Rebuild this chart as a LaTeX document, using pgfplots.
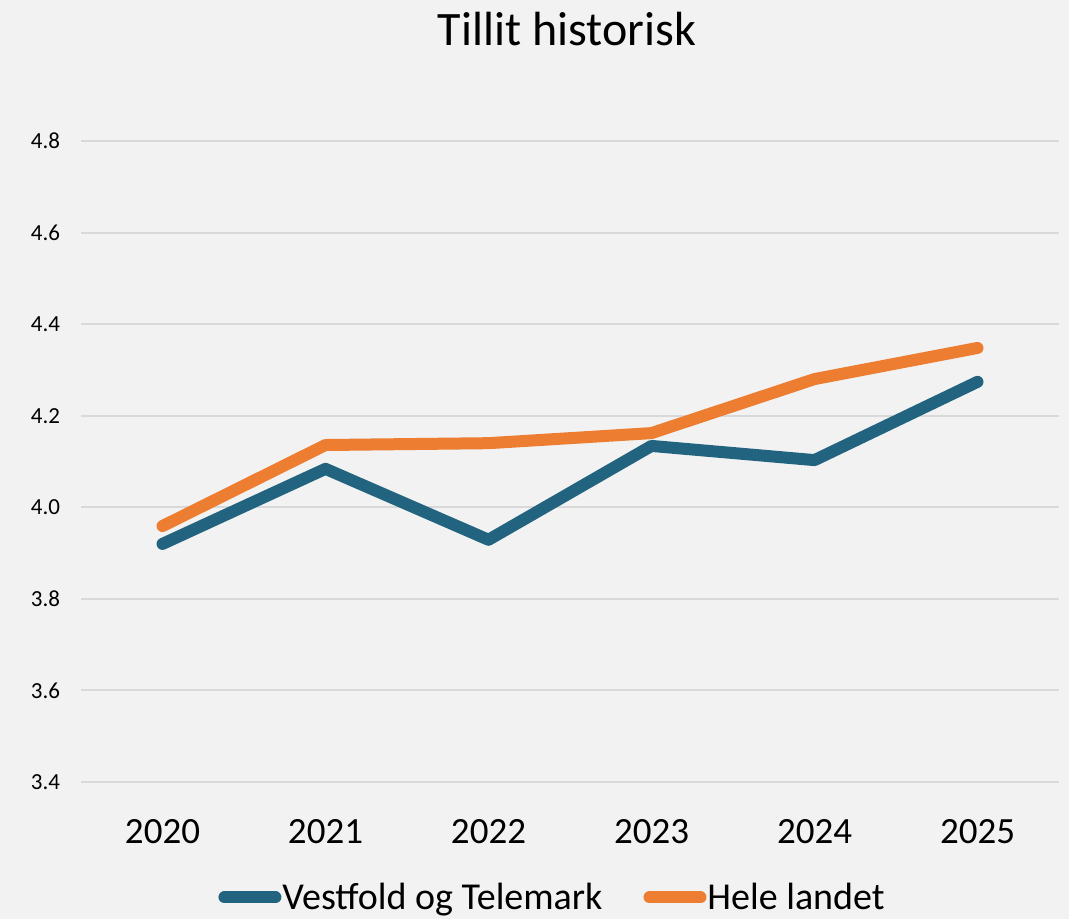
\documentclass[border=0pt]{standalone}
\usepackage{pgfplots}
\pgfplotsset{compat=1.18}
\usepackage{fontspec}
\setmainfont{Carlito}
\definecolor{bg}{HTML}{F2F2F2}
\definecolor{vt}{HTML}{22637F}
\definecolor{hl}{HTML}{ED7D31}
\definecolor{gr}{HTML}{D9D9D9}
\begin{document}
\begin{tikzpicture}
\fill[bg] (-40.5bp,-68.5bp) rectangle (494bp,391bp);
\useasboundingbox (-40.5bp,-68.5bp) rectangle (494bp,391bp);
\begin{axis}[
  at={(0,0)}, anchor=south west,
  scale only axis, width=489bp, height=320.5bp,
  xmin=-0.5, xmax=5.5, ymin=3.4, ymax=4.8,
  xtick={0,1,2,3,4,5},
  xticklabels={2020,2021,2022,2023,2024,2025},
  ytick={3.4,3.6,3.8,4.0,4.2,4.4,4.6,4.8},
  y tick label style={/pgf/number format/fixed, /pgf/number format/fixed zerofill, /pgf/number format/precision=1},
  /pgf/number format/assume math mode=true,
  ymajorgrids, grid style={gr, line width=1bp},
  axis line style={draw=none},
  major tick length=0pt,
  tick label style={black},
  yticklabel style={font=\fontsize{11.5bp}{13bp}\selectfont, xshift=-7bp},
  xticklabel style={font=\fontsize{18.5bp}{22bp}\selectfont, yshift=-15bp},
  legend columns=2,
  legend style={draw=none, fill=none, at={(axis description cs:0.4816,-0.180)}, anchor=center,
    font=\fontsize{19bp}{23bp}\selectfont,
    /tikz/every even column/.append style={column sep=20bp},
    nodes={inner sep=0.5bp},
    inner sep=0pt},
  legend image code/.code={\draw[#1, line cap=round] (3bp,0bp) -- (28.5bp,0bp);},
  every axis plot/.append style={line width=6bp, line cap=round, line join=round},
]
\addplot[vt] coordinates {(0,3.920) (1,4.084) (2,3.929) (3,4.134) (4,4.103) (5,4.274)};
\addlegendentry{Vestfold og Telemark}
\addplot[hl] coordinates {(0,3.959) (1,4.136) (2,4.140) (3,4.162) (4,4.280) (5,4.348)};
\addlegendentry{Hele landet}
\end{axis}
\node[font=\fontsize{24bp}{28bp}\selectfont] at (243bp,376.5bp) {Tillit historisk};
\end{tikzpicture}
\end{document}
